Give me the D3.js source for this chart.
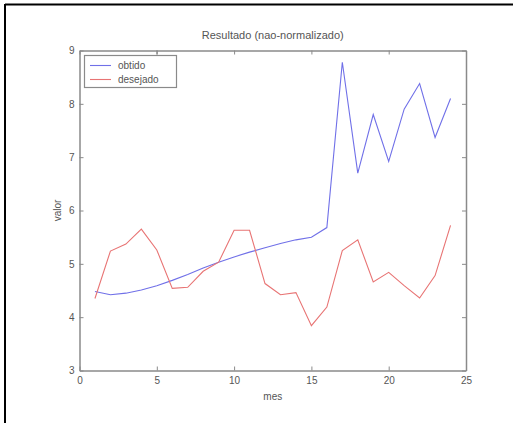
<!DOCTYPE html>
<html><head><meta charset="utf-8">
<script src="https://cdn.jsdelivr.net/npm/d3@7"></script>
<style>body{margin:0;background:#fff}svg{display:block}text{font-family:Arial,"Liberation Sans",sans-serif;fill:#555}</style>
</head><body><svg id="c" width="513" height="423"></svg>
<script>
const months = [1,2,3,4,5,6,7,8,9,10,11,12,13,14,15,16,17,18,19,20,21,22,23,24];
const obtido = [4.48,4.42,4.45,4.51,4.59,4.69,4.8,4.92,5.03,5.13,5.22,5.3,5.38,5.45,5.5,5.68,8.78,6.7,7.8,6.92,7.9,8.38,7.37,8.1];
const desejado = [4.35,5.24,5.37,5.65,5.26,4.54,4.56,4.86,5.03,5.63,5.63,4.63,4.42,4.46,3.84,4.19,5.25,5.45,4.66,4.84,4.59,4.36,4.78,5.72];
const xTicks = [0,5,10,15,20,25];
const yTicks = [3,4,5,6,7,8,9];
const seriesNames = ["obtido","desejado"];

const svg = d3.select("#c");
const L=79.5, R=466, T=50.5, B=370.5;
const x = d3.scaleLinear().domain([0,25]).range([L,R]);
const y = d3.scaleLinear().domain([3,9]).range([B,T]);
const axisCol = "#8a8a8a";

svg.append("line").attr("x1",5).attr("x2",513).attr("y1",4.5).attr("y2",4.5).attr("stroke","#000").attr("stroke-width",2);
svg.append("line").attr("x1",5).attr("x2",5).attr("y1",4).attr("y2",423).attr("stroke","#000").attr("stroke-width",2);

const g = svg.append("g");
const line = d3.line().x((d,i)=>x(months[i])).y(d=>y(d));
g.append("path").datum(obtido).attr("d",line).attr("fill","none").attr("stroke","#7070e8").attr("stroke-width",1.1);
g.append("path").datum(desejado).attr("d",line).attr("fill","none").attr("stroke","#e87474").attr("stroke-width",1.1);

const fmt = d3.format("d");
const ax = svg.append("g").attr("transform",`translate(0,${B})`).call(d3.axisBottom(x).tickValues(xTicks).tickFormat(fmt).tickSizeInner(-4).tickSizeOuter(0).tickPadding(6));
const axT = svg.append("g").attr("transform",`translate(0,${T})`).call(d3.axisTop(x).tickValues(xTicks).tickFormat("").tickSizeInner(-4).tickSizeOuter(0));
const ay = svg.append("g").attr("transform",`translate(${L},0)`).call(d3.axisLeft(y).tickValues(yTicks).tickFormat(fmt).tickSizeInner(-4).tickSizeOuter(0).tickPadding(5));
const ayR = svg.append("g").attr("transform",`translate(${R},0)`).call(d3.axisRight(y).tickValues(yTicks).tickFormat("").tickSizeInner(-4).tickSizeOuter(0));
[ax,axT,ay,ayR].forEach(a=>{
  a.selectAll("path").attr("stroke",axisCol).attr("stroke-width",1.5);
  a.selectAll("line").attr("stroke",axisCol);
  a.selectAll("text").attr("fill","#555").style("font-size","10px").style("font-family","Arial, 'Liberation Sans', sans-serif");
});

svg.append("text").attr("x",(L+R)/2).attr("y",39).attr("text-anchor","middle").style("font-size","11px").text("Resultado (nao-normalizado)");
svg.append("text").attr("x",(L+R)/2).attr("y",400).attr("text-anchor","middle").style("font-size","10px").text("mes");
svg.append("text").attr("transform",`translate(61,${(T+B)/2}) rotate(-90)`).attr("text-anchor","middle").style("font-size","10px").text("valor");

const lg = svg.append("g");
lg.append("rect").attr("x",84.5).attr("y",55.5).attr("width",92).attr("height",32).attr("fill","#fff").attr("stroke",axisCol).attr("stroke-width",1.2);
const cols = ["#7070e8","#e87474"];
seriesNames.forEach((n,i)=>{
  const yy = 65.5 + i*14;
  lg.append("line").attr("x1",90).attr("x2",111).attr("y1",yy).attr("y2",yy).attr("stroke",cols[i]).attr("stroke-width",1.1);
  lg.append("text").attr("x",118).attr("y",yy+3.5).style("font-size","10px").text(n);
});
svg.append("line").attr("x1",x(5)).attr("x2",x(5)).attr("y1",T).attr("y2",T+4).attr("stroke",axisCol);
</script></body></html>
